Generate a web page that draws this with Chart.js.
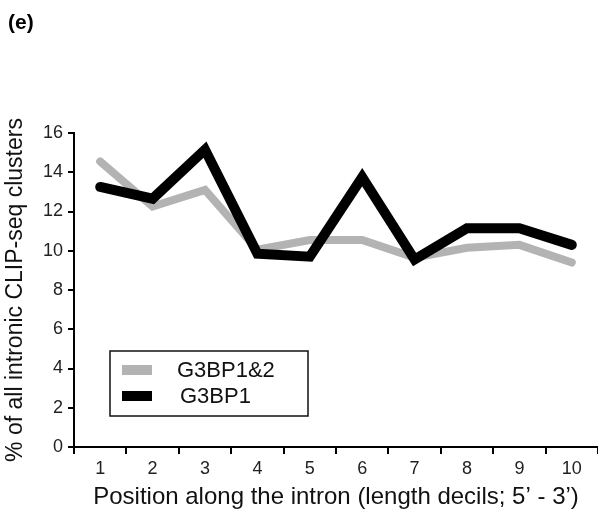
<!DOCTYPE html>
<html>
<head>
<meta charset="utf-8">
<script src="https://cdn.jsdelivr.net/npm/chart.js@4/dist/chart.umd.min.js"></script>
<style>
  html, body { margin: 0; padding: 0; background: #fff; }
  #wrap { width: 598px; height: 512px; position: relative; }
</style>
</head>
<body>
<div id="wrap"><canvas id="chart"></canvas></div>
<script>
// data
const deciles = ['1', '2', '3', '4', '5', '6', '7', '8', '9', '10'];
const g3bp12 = [14.55, 12.25, 13.1, 10.05, 10.55, 10.55, 9.65, 10.15, 10.3, 9.4];
const g3bp1 = [13.25, 12.65, 15.15, 9.85, 9.7, 13.75, 9.55, 11.15, 11.15, 10.3];
const yTicks = [0, 2, 4, 6, 8, 10, 12, 14, 16];

const FONT = '"Liberation Sans", Arial, sans-serif';

// panel letter + legend box inside the plot
const extras = {
    id: 'extras',
    afterDraw(chart) {
        const c = chart.ctx;
        const area = chart.chartArea;
        c.save();
        c.fillStyle = '#000';
        c.font = 'bold 21px ' + FONT;
        c.textBaseline = 'alphabetic';
        c.fillText('(e)', 8, 29);

        // legend
        const bx = area.left + 36, by = area.top + 218, bw = 198, bh = 65;
        c.lineWidth = 1.5;
        c.strokeStyle = '#111';
        c.strokeRect(bx, by, bw, bh);
        const items = [chart.data.datasets[1], chart.data.datasets[0]];
        c.font = '22px ' + FONT;
        c.textBaseline = 'middle';
        items.forEach((ds, i) => {
            const cy = by + 19 + i * 26;
            c.fillStyle = ds.borderColor;
            c.fillRect(bx + 12, cy - 5, 30, 10);
            c.fillStyle = '#111';
            c.fillText(ds.label, bx + 67 + (i ? 3 : 0), cy + 1);
        });
        c.restore();
    }
};

new Chart(document.getElementById('chart'), {
    type: 'line',
    data: {
        labels: deciles,
        datasets: [
            { label: 'G3BP1', data: g3bp1, borderColor: '#000', borderWidth: 10, order: 0 },
            { label: 'G3BP1&2', data: g3bp12, borderColor: '#b3b3b3', borderWidth: 8, order: 1 }
        ]
    },
    options: {
        responsive: true,
        maintainAspectRatio: false,
        animation: false,
        layout: { padding: { top: 133, right: 0, left: 0, bottom: 0 } },
        elements: {
            line: { tension: 0, borderCapStyle: 'round', borderJoinStyle: 'miter', fill: false },
            point: { radius: 0, hoverRadius: 0 }
        },
        plugins: {
            legend: { display: false },
            tooltip: { enabled: false }
        },
        scales: {
            x: {
                type: 'category',
                offset: true,
                afterFit: s => { s.height = 65; },
                border: { display: true, color: '#000', width: 2 },
                grid: { offset: true, drawOnChartArea: false, drawTicks: true, tickLength: 7, color: '#000', lineWidth: 2 },
                ticks: { color: '#222', font: { family: FONT, size: 18 }, padding: 4, maxRotation: 0 },
                title: {
                    display: true,
                    text: 'Position along the intron (length decils; 5\u2019 - 3\u2019)',
                    color: '#111',
                    font: { family: FONT, size: 24 },
                    padding: { top: 0, bottom: 0 }
                }
            },
            y: {
                min: 0,
                max: 16,
                afterFit: s => { s.width = 74; },
                afterBuildTicks: s => { s.ticks = yTicks.map(v => ({ value: v })); },
                border: { display: true, color: '#000', width: 2 },
                grid: { drawOnChartArea: false, drawTicks: true, tickLength: 6, color: '#000', lineWidth: 2 },
                ticks: { color: '#222', font: { family: FONT, size: 18 }, padding: 5 },
                title: {
                    display: true,
                    text: '% of all intronic CLIP-seq clusters',
                    color: '#111',
                    font: { family: FONT, size: 23 },
                    padding: { top: 2, bottom: 0 }
                }
            }
        }
    },
    plugins: [extras]
});
</script>
</body>
</html>
